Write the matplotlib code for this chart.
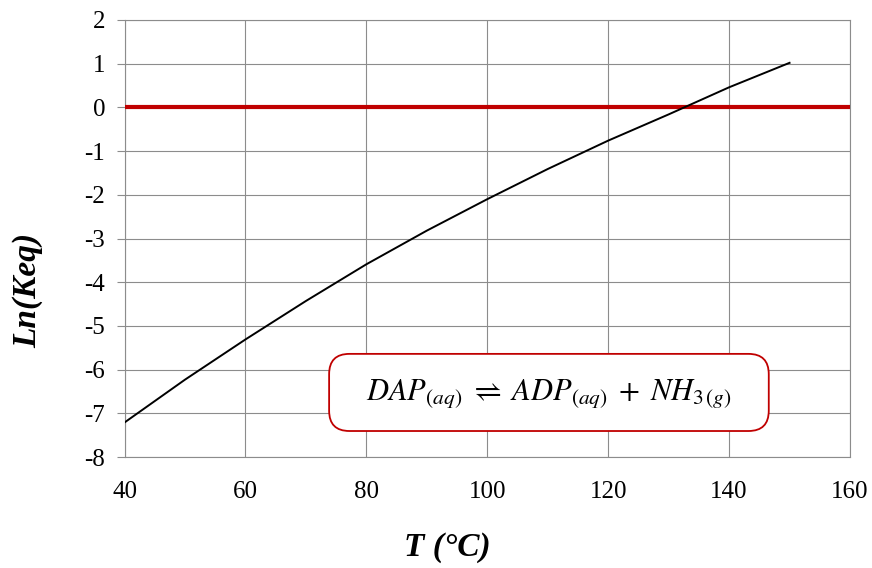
import matplotlib
matplotlib.use("Agg")
import matplotlib.pyplot as plt
from matplotlib.patches import FancyBboxPatch

# Data
temp_c = [40, 50, 60, 70, 80, 90, 100, 110, 120, 130, 140, 150]
ln_keq = [-7.21, -6.23, -5.31, -4.43, -3.59, -2.82, -2.10, -1.41, -0.76, -0.16, 0.46, 1.02]
zero_x = [40, 160]
zero_y = [0, 0]
x_ticks = [40, 60, 80, 100, 120, 140, 160]
y_ticks = [-8, -7, -6, -5, -4, -3, -2, -1, 0, 1, 2]

plt.rcParams['font.family'] = ['Liberation Serif', 'DejaVu Serif']
plt.rcParams['mathtext.fontset'] = 'stix'
plt.rcParams['axes.unicode_minus'] = False

fig = plt.figure(figsize=(8.72, 5.68), dpi=100)
ax = fig.add_axes([0.1428, 0.1954, 0.832, 0.7694])

ax.plot(zero_x, zero_y, color='#C00000', linewidth=3, zorder=3)
ax.plot(temp_c, ln_keq, color='black', linewidth=1.4, zorder=4)

ax.set_xlim(40, 160)
ax.set_ylim(-8, 2)
ax.set_xticks(x_ticks)
ax.set_yticks(y_ticks)
ax.grid(True, color='#8c8c8c', linewidth=0.8)
ax.set_axisbelow(True)
for s in ax.spines.values():
    s.set_color('#8c8c8c')
    s.set_linewidth(0.8)
ax.tick_params(axis='x', length=0, pad=17, labelsize=18)
ax.tick_params(axis='y', length=6, width=0.8, color='#8c8c8c', pad=8, labelsize=18)

ax.set_xlabel('T (°C)', fontsize=24, fontweight='bold', fontstyle='italic')
ax.set_ylabel('Ln(Keq)', fontsize=24, fontweight='bold', fontstyle='italic')
ax.xaxis.set_label_coords(0.445, -0.172)
ax.yaxis.set_label_coords(-0.112, 0.382)

# reaction box
box = FancyBboxPatch((0.282, 0.0595), 0.606, 0.1765,
                     boxstyle='round,pad=0,rounding_size=0.028',
                     mutation_aspect=725.5 / 437,
                     transform=ax.transAxes, facecolor='white',
                     edgecolor='#C00000', linewidth=1.3, zorder=5)
ax.add_patch(box)
ax.text(0.585, 0.145,
        r'$DAP_{(aq)}\;\rightleftharpoons\;ADP_{(aq)}\;+\;NH_{3\,(g)}$',
        transform=ax.transAxes, ha='center', va='center', fontsize=22, zorder=6)

fig.savefig('out.png', dpi=100)
